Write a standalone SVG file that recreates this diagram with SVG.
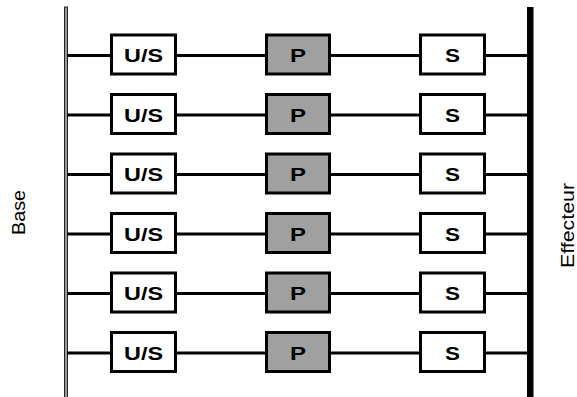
<svg xmlns="http://www.w3.org/2000/svg" width="577" height="397" viewBox="0 0 577 397">
  <style>
    .box { stroke: #000; stroke-width: 3; }
    .us, .s { fill: #fff; }
    .p { fill: #a0a0a0; }
    .lbl { font-family: "Liberation Sans", Arial, sans-serif; font-weight: bold; font-size: 19px; text-anchor: middle; fill: #000; }
    .side { font-family: "Liberation Sans", Arial, sans-serif; font-size: 19px; text-anchor: middle; fill: #000; }
    .wire { stroke: #000; stroke-width: 3; fill: none; }
  </style>

  <!-- base rail (left) and effector rail (right) -->
  <g id="base">
    <rect x="64.5" y="7" width="3" height="391" fill="#9a9a9a" stroke="#222" stroke-width="1"/>
    <text class="side" transform="rotate(-90)" x="-212.5" y="25" textLength="45" lengthAdjust="spacingAndGlyphs">Base</text>
  </g>
  <g id="effecteur">
    <rect x="527" y="7" width="6.5" height="391" fill="#000"/>
    <text class="side" transform="rotate(-90)" x="-225.5" y="574" textLength="85" lengthAdjust="spacingAndGlyphs">Effecteur</text>
  </g>

  <!-- leg wires, one per row -->
  <g id="connectors">
    <line class="wire" x1="67" y1="55.5" x2="527" y2="55.5"/>
    <line class="wire" x1="67" y1="115" x2="527" y2="115"/>
    <line class="wire" x1="67" y1="174.5" x2="527" y2="174.5"/>
    <line class="wire" x1="67" y1="234" x2="527" y2="234"/>
    <line class="wire" x1="67" y1="293.5" x2="527" y2="293.5"/>
    <line class="wire" x1="67" y1="353" x2="527" y2="353"/>
  </g>

  <defs>
    <g id="usNode">
      <rect class="box us" x="111.5" y="-20.5" width="64" height="39"/>
      <text class="lbl" x="143.5" y="6.5" textLength="39" lengthAdjust="spacingAndGlyphs">U/S</text>
    </g>
    <g id="pNode">
      <rect class="box p" x="266.5" y="-20.5" width="63" height="39"/>
      <text class="lbl" x="298" y="6.5" textLength="16" lengthAdjust="spacingAndGlyphs">P</text>
    </g>
    <g id="sNode">
      <rect class="box s" x="420.5" y="-20.5" width="64" height="39"/>
      <text class="lbl" x="452.5" y="6.5" textLength="15" lengthAdjust="spacingAndGlyphs">S</text>
    </g>
  </defs>

  <!-- leg 1 -->
  <g id="us1" transform="translate(0,55.5)"><use href="#usNode"/></g>
  <g id="p1" transform="translate(0,55.5)"><use href="#pNode"/></g>
  <g id="s1" transform="translate(0,55.5)"><use href="#sNode"/></g>
  <!-- leg 2 -->
  <g id="us2" transform="translate(0,115)"><use href="#usNode"/></g>
  <g id="p2" transform="translate(0,115)"><use href="#pNode"/></g>
  <g id="s2" transform="translate(0,115)"><use href="#sNode"/></g>
  <!-- leg 3 -->
  <g id="us3" transform="translate(0,174.5)"><use href="#usNode"/></g>
  <g id="p3" transform="translate(0,174.5)"><use href="#pNode"/></g>
  <g id="s3" transform="translate(0,174.5)"><use href="#sNode"/></g>
  <!-- leg 4 -->
  <g id="us4" transform="translate(0,234)"><use href="#usNode"/></g>
  <g id="p4" transform="translate(0,234)"><use href="#pNode"/></g>
  <g id="s4" transform="translate(0,234)"><use href="#sNode"/></g>
  <!-- leg 5 -->
  <g id="us5" transform="translate(0,293.5)"><use href="#usNode"/></g>
  <g id="p5" transform="translate(0,293.5)"><use href="#pNode"/></g>
  <g id="s5" transform="translate(0,293.5)"><use href="#sNode"/></g>
  <!-- leg 6 -->
  <g id="us6" transform="translate(0,353)"><use href="#usNode"/></g>
  <g id="p6" transform="translate(0,353)"><use href="#pNode"/></g>
  <g id="s6" transform="translate(0,353)"><use href="#sNode"/></g>
</svg>
